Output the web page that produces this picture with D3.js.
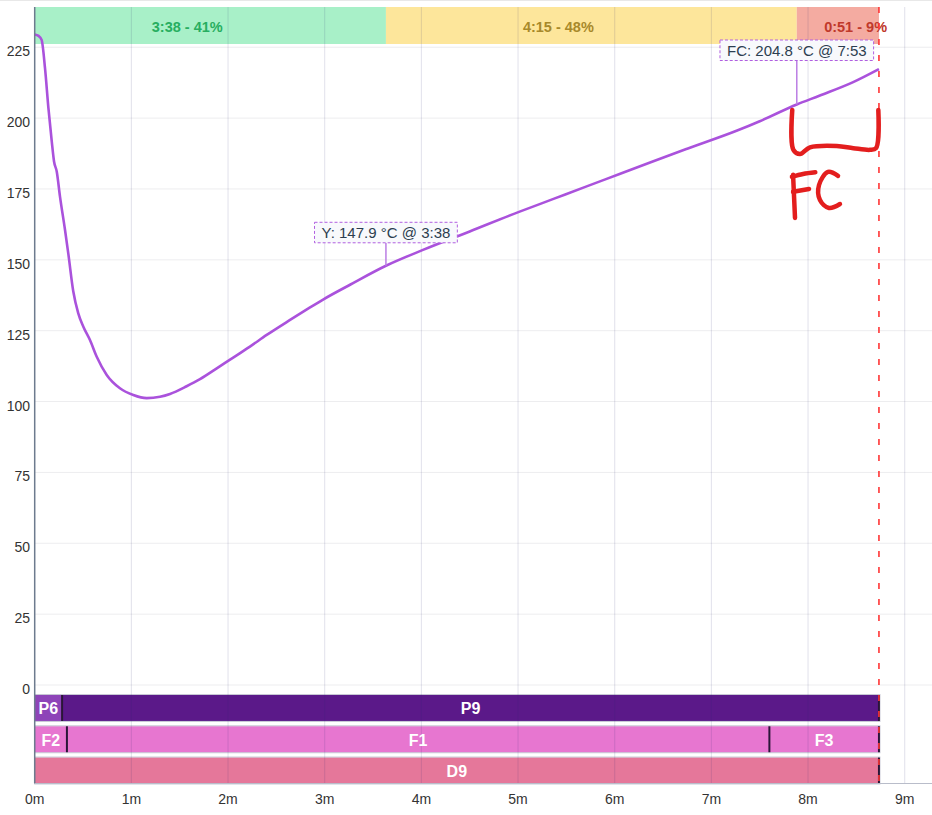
<!DOCTYPE html>
<html><head><meta charset="utf-8">
<script src="https://cdn.jsdelivr.net/npm/d3@7"></script>
<style>
body{margin:0;background:#fff}
svg{display:block;font-family:"Liberation Sans",Arial,sans-serif}
</style>
</head><body>
<svg id="chart" width="932" height="815"></svg>
<script>
// ---------- data ----------
const timeSec = [0,2.4,4.3,6.4,8.5,10.6,12,13.7,15.7,18.8,20.9,23.9,27,30.2,34.3,38.5,44.7,52.9,61.2,69.5,77.8,84,94.3,102.6,113,121,133.6,144,158.5,170.9,179,196,218,241,270,301,322,343,363,384,405,436,450,473,487,508,524];
const beanTemp = [229.5,229,227.6,217.6,203.6,191.7,184.7,181.1,172.3,160.6,152.0,139.0,131.2,126.4,121.7,115.8,109.4,104.7,102.3,101.2,101.7,102.7,105.4,107.9,111.7,114.7,119.4,123.5,128.8,133.2,136.0,141.3,147.9,153.5,160.0,167.0,171.5,176.0,180.3,184.8,189.2,195.6,198.9,204.8,207.9,212.7,217.3];

const xTickMinutes = [0,1,2,3,4,5,6,7,8,9];
const xTickLabels = ["0m","1m","2m","3m","4m","5m","6m","7m","8m","9m"];
const yTicks = [0,25,50,75,100,125,150,175,200,225];

const phaseEnds = [218,473,524];          // seconds
const eventNames = ["Y","FC"];
const eventTimes = [218,473];
const eventTemps = [147.9,204.8];

const segRow   = [0,0,1,1,1,2];
const segLabel = ["P6","P9","F2","F1","F3","D9"];
const segStart = [0,17,0,20,456,0];
const segEnd   = [17,524,20,456,524,524];

// hand-drawn "FC" mark (time s, temp)
const markBracket = [[470.2,202.9],[470.9,188.8],[475.0,187.3],[481.2,189.7],[497.8,190.2],[508.1,189.4],[518.4,188.8],[522.2,189.4],[523.6,202.9]];
const markFVert = [[470.7,180.0],[471.9,164.8]];
const markFTop  = [[470.0,179.3],[476.9,180.3],[484.5,180.9]];
const markFMid  = [[470.7,174.0],[480.6,175.0]];
const markC     = [[498.6,179.6],[492.4,181.0],[486.8,176.4],[487.4,171.1],[493.0,168.3],[499.8,169.7]];

// ---------- layout / style ----------
const W = 932, H = 815;
const plotLeft = 34.7, plotTop = 7, plotBottom = 783.5;
const phaseFill = ["#a8f0c8","#fde69b","#f4aba1"];
const phaseText = ["#27ae60","#a8892a","#c0392b"];
const segFill = ["#8e44b8","#5b1989","#e776d0","#e776d0","#e776d0","#e5779a"];
const eventLift = [23,44];

const svg = d3.select("#chart");
const x = d3.scaleLinear().domain([0,558]).range([plotLeft, plotLeft + 9.3*96.67]);
const y = d3.scaleLinear().domain([-34.75,239.2]).range([plotBottom, plotTop]);

svg.append("line").attr("x1",0).attr("x2",W).attr("y1",0.5).attr("y2",0.5).attr("stroke","#e8e8e8");

// phase bands
const phaseStarts = [0].concat(phaseEnds.slice(0,-1));
const total = phaseEnds[phaseEnds.length-1];
const fmt = s => Math.floor(s/60) + ":" + String(Math.round(s%60)).padStart(2,"0");
const bandH = 37;
const phases = phaseEnds.map((e,i)=>({s:phaseStarts[i], e, i}));
svg.selectAll(".band").data(phases).enter().append("rect")
  .attr("x",d=>x(d.s)).attr("width",d=>x(d.e)-x(d.s))
  .attr("y",plotTop).attr("height",bandH).attr("fill",d=>phaseFill[d.i]);

// bars
const rows = d3.scaleBand().domain([0,1,2]).range([y(0)+10, plotBottom]).paddingInner(0.17);
const segs = segLabel.map((l,i)=>({l, r:segRow[i], s:segStart[i], e:segEnd[i], i}));
svg.selectAll(".seg").data(segs).enter().append("rect")
  .attr("x",d=>x(d.s)).attr("width",d=>x(d.e)-x(d.s))
  .attr("y",d=>rows(d.r)).attr("height",rows.bandwidth())
  .attr("fill",d=>segFill[d.i]);
[0,1,2].forEach(r=>{
  svg.append("rect").attr("x",x(0)).attr("width",x(total)-x(0)+1)
    .attr("y",rows(r)-0.5).attr("height",rows.bandwidth()+1)
    .attr("fill","none").attr("stroke","rgba(130,130,160,0.45)").attr("stroke-width",1);
});

// grid
svg.selectAll(".hg").data(yTicks).enter().append("line")
  .attr("x1",plotLeft).attr("x2",W).attr("y1",d=>y(d)).attr("y2",d=>y(d))
  .attr("stroke","rgba(0,0,40,0.075)");
svg.selectAll(".vg").data(xTickMinutes.slice(1)).enter().append("line")
  .attr("x1",d=>x(d*60)).attr("x2",d=>x(d*60)).attr("y1",plotTop).attr("y2",plotBottom)
  .attr("stroke","rgba(40,40,110,0.14)");

// segment separators
svg.selectAll(".sep").data(segs).enter().append("line")
  .attr("x1",d=>x(d.e)).attr("x2",d=>x(d.e))
  .attr("y1",d=>rows(d.r)).attr("y2",d=>rows(d.r)+rows.bandwidth())
  .attr("stroke","#2a1638").attr("stroke-width",2);

svg.selectAll(".segl").data(segs).enter().append("text")
  .attr("x",d=>(x(d.s)+x(d.e))/2).attr("y",d=>rows(d.r)+rows.bandwidth()/2+1)
  .attr("text-anchor","middle").attr("dominant-baseline","central")
  .attr("fill","#fff").attr("font-weight","bold").attr("font-size",16).text(d=>d.l);

// band labels
svg.selectAll(".bandl").data(phases).enter().append("text")
  .attr("x",d=>x(d.s)+(x(d.e)-x(d.s))/3).attr("y",plotTop+bandH/2+1.5)
  .attr("dominant-baseline","central").attr("font-weight","bold").attr("font-size",14.5)
  .attr("fill",d=>phaseText[d.i])
  .text(d=>fmt(d.e-d.s)+" - "+Math.floor((d.e-d.s)/total*100)+"%");

// curve
const pts = timeSec.map((t,i)=>[t,beanTemp[i]]);
svg.append("path").datum(pts)
  .attr("d",d3.line().x(d=>x(d[0])).y(d=>y(d[1])).curve(d3.curveMonotoneX))
  .attr("fill","none").attr("stroke","#aa52dc").attr("stroke-width",2.6).attr("stroke-linejoin","round");

// end line
svg.append("line").attr("x1",x(total)).attr("x2",x(total)).attr("y1",plotTop).attr("y2",plotBottom+4)
  .attr("stroke","#ff3535").attr("stroke-width",1.6).attr("stroke-dasharray","6,10");

// axes
svg.append("line").attr("x1",plotLeft).attr("x2",plotLeft).attr("y1",plotTop).attr("y2",plotBottom)
  .attr("stroke","#6d7b8e").attr("stroke-width",1.5);
svg.append("line").attr("x1",plotLeft).attr("x2",W).attr("y1",plotBottom).attr("y2",plotBottom)
  .attr("stroke","#b9bdca").attr("stroke-width",1.2);
svg.selectAll(".yl").data(yTicks).enter().append("text")
  .attr("x",30).attr("y",d=>y(d)+4).attr("text-anchor","end").attr("dominant-baseline","central")
  .attr("font-size",14).attr("fill","#333").text(d=>d);
svg.selectAll(".xl").data(xTickMinutes).enter().append("text")
  .attr("x",d=>x(d*60)).attr("y",799).attr("text-anchor","middle").attr("dominant-baseline","central")
  .attr("font-size",14).attr("fill","#333").text((d,i)=>xTickLabels[i]);

// annotations
eventNames.forEach((n,i)=>{
  const px = x(eventTimes[i]), py = y(eventTemps[i]);
  const boxBottom = py - eventLift[i];
  const g = svg.append("g");
  g.append("line").attr("x1",px).attr("x2",px).attr("y1",boxBottom).attr("y2",py)
    .attr("stroke","#bb7ee4").attr("stroke-width",1.5);
  const t = g.append("text").attr("x",px).attr("y",boxBottom-10).attr("text-anchor","middle")
    .attr("dominant-baseline","central").attr("font-size",15).attr("fill","#2c3e50")
    .text(n+": "+eventTemps[i].toFixed(1)+" °C @ "+fmt(eventTimes[i]));
  const w = t.node().getComputedTextLength()+14;
  g.insert("rect","text").attr("x",px-w/2).attr("y",boxBottom-20.5).attr("width",w).attr("height",20.5)
    .attr("fill","#f8f9fc").attr("stroke","#b05fe0").attr("stroke-width",1).attr("stroke-dasharray","3,2");
});

// hand-drawn FC mark
const hand = d3.line().x(d=>x(d[0])).y(d=>y(d[1])).curve(d3.curveCatmullRom.alpha(0.5));
[markBracket,markFVert,markFTop,markFMid,markC].forEach(p=>{
  svg.append("path").attr("d",hand(p)).attr("fill","none").attr("stroke","#e31e1e")
    .attr("stroke-width",4.5).attr("stroke-linecap","round").attr("stroke-linejoin","round");
});
</script>
</body></html>
